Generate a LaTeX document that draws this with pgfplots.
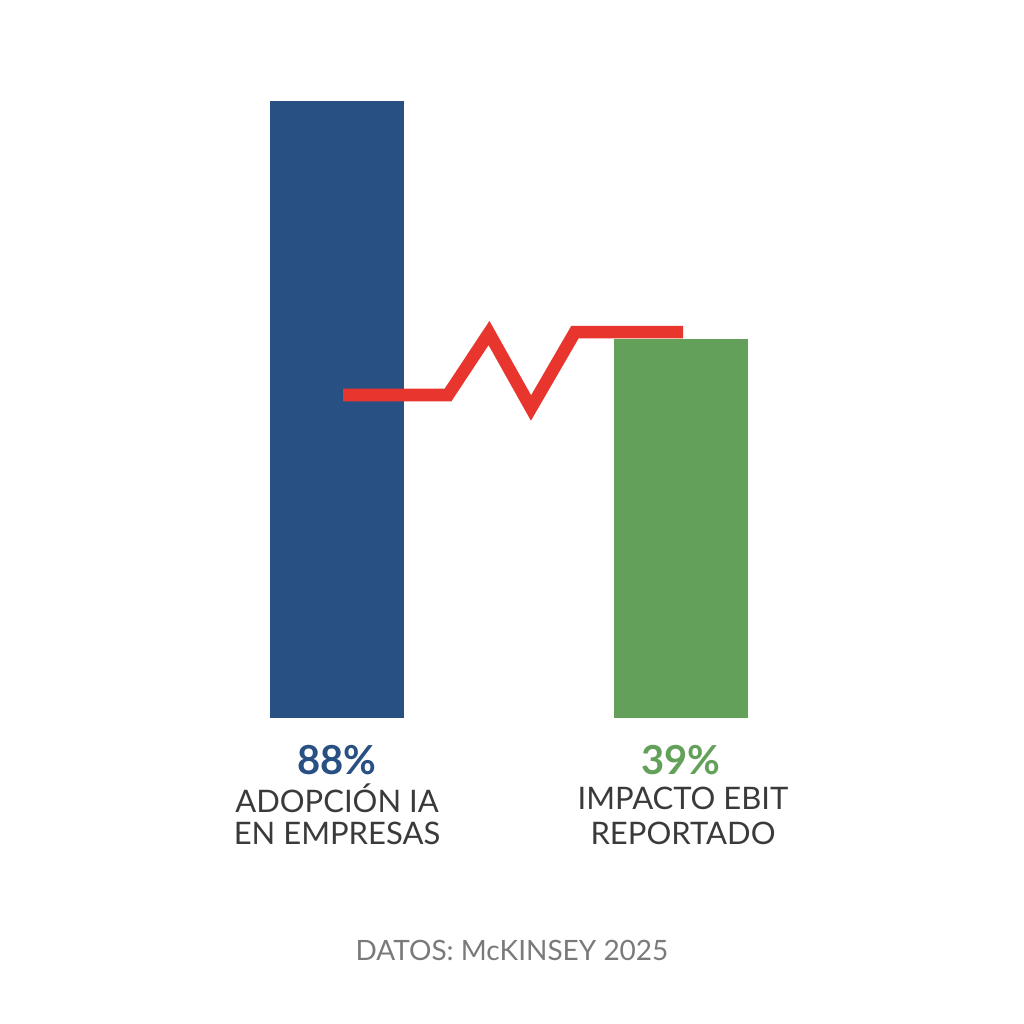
\documentclass[border=0pt]{standalone}
\usepackage{pgfplots}
\pgfplotsset{compat=1.18}
\usepackage{fontspec}
\setmainfont{Lato}
\definecolor{barblue}{HTML}{285083}
\definecolor{bargreen}{HTML}{63A05A}
\definecolor{linered}{HTML}{E8352E}
\definecolor{txtdark}{HTML}{3A3A3A}
\definecolor{txtgray}{HTML}{7A7A7A}
\begin{document}
\begin{tikzpicture}
\begin{axis}[
  scale only axis, width=512pt, height=512pt,
  xmin=0, xmax=1024, ymin=-43.64, ymax=102.41,
  axis lines=none, ticks=none, clip=false,
]
\path (rel axis cs:0,0) rectangle (rel axis cs:1,1);
\addplot[ybar, bar width=134, bar shift=0pt, fill=barblue, draw=none] coordinates {(337,88)};
\addplot[ybar, bar width=134, bar shift=0pt, fill=bargreen, draw=none] coordinates {(681,54.05)};
\addplot[linered, line width=6.3pt, line cap=butt, line join=miter] coordinates {
 (343,46.07) (448,46.07) (489,54.91) (531,44.22) (575,55.05) (683,55.05)};
\begin{scope}[every node/.style={inner sep=0pt}]
\node[font=\fontsize{20}{22}\selectfont\bfseries, text=barblue] at (axis cs:337,-5.99) {88\%};
\node[font=\fontsize{15.5}{17}\selectfont, text=txtdark] at (axis cs:337,-11.50) {ADOPCIÓN IA};
\node[font=\fontsize{15.5}{17}\selectfont, text=txtdark] at (axis cs:337,-16.40) {EN EMPRESAS};
\node[font=\fontsize{20}{22}\selectfont\bfseries, text=bargreen] at (axis cs:681,-5.99) {39\%};
\node[font=\fontsize{15.5}{17}\selectfont, text=txtdark] at (axis cs:683,-11.50) {IMPACTO EBIT};
\node[font=\fontsize{15.5}{17}\selectfont, text=txtdark] at (axis cs:683,-16.40) {REPORTADO};
\node[font=\fontsize{14}{16}\selectfont, text=txtgray] at (axis cs:512,-33.09) {DATOS: McKINSEY 2025};
\end{scope}
\end{axis}
\end{tikzpicture}
\end{document}
